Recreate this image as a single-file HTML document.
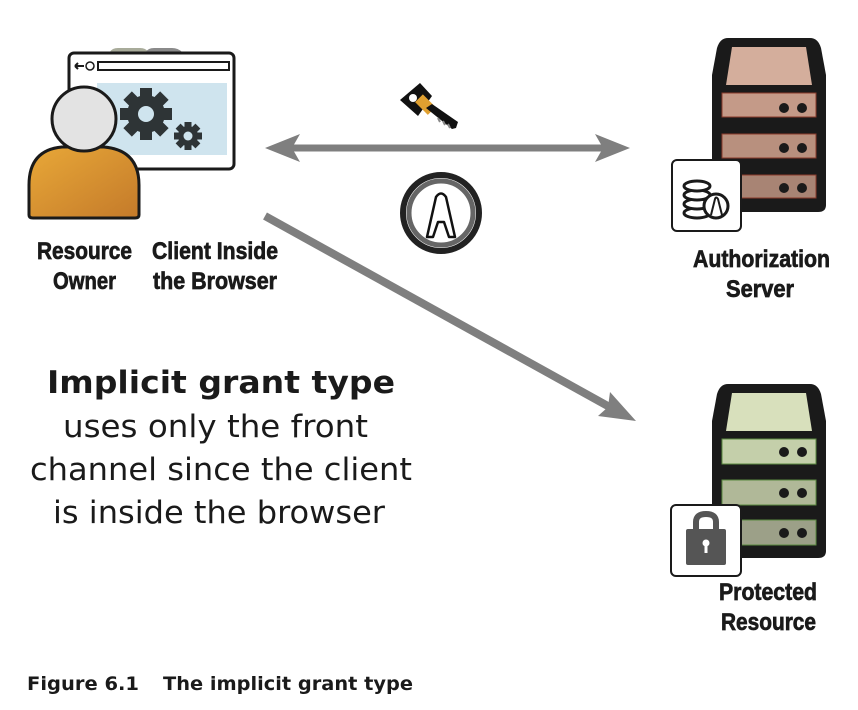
<!DOCTYPE html>
<html><head><meta charset="utf-8"><style>
html,body{margin:0;padding:0;background:#fff;}
svg{display:block;}
.lb{font-family:"Liberation Sans",sans-serif;font-weight:bold;font-size:24px;fill:#1a1a1a;stroke:#1a1a1a;stroke-width:0.7;}
</style></head><body>
<svg width="858" height="710" viewBox="0 0 858 710" xmlns="http://www.w3.org/2000/svg">
<defs>
<linearGradient id="org" x1="0" y1="0" x2="1" y2="1"><stop offset="0" stop-color="#e8a838"/><stop offset="1" stop-color="#c47a2a"/></linearGradient>
</defs>
<path d="M110 52 Q112 48 118 48 L140 48 Q146 48 148 52 Z" fill="#a8ab9a"/>
<path d="M146 52 Q148 48 154 48 L172 48 Q178 48 182 52 Z" fill="#8a8a8a"/>
<rect x="69" y="53" width="165" height="116" rx="5" fill="#fff" stroke="#1a1a1a" stroke-width="3"/>
<rect x="98" y="62" width="131" height="8" fill="#fff" stroke="#1a1a1a" stroke-width="2"/>
<path d="M75 66 L84 66 M75 66 L78 63 M75 66 L78 69" stroke="#1a1a1a" stroke-width="2" fill="none"/>
<circle cx="90" cy="66" r="4" fill="none" stroke="#1a1a1a" stroke-width="1.5"/>
<rect x="97" y="83" width="130" height="72" fill="#cfe4ee"/>
<g transform="translate(146,114)" fill="#2e3436">
<circle r="19"/>
<rect x="-6" y="-26" width="12" height="52"/><rect x="-26" y="-6" width="52" height="12"/><rect x="-6" y="-26" width="12" height="52" transform="rotate(45)"/><rect x="-6" y="-26" width="12" height="52" transform="rotate(-45)"/>
<circle r="8" fill="#cfe4ee"/>
</g>
<g transform="translate(188,136)" fill="#2e3436">
<circle r="10"/>
<rect x="-3.5" y="-14" width="7" height="28"/><rect x="-14" y="-3.5" width="28" height="7"/><rect x="-3.5" y="-14" width="7" height="28" transform="rotate(45)"/><rect x="-3.5" y="-14" width="7" height="28" transform="rotate(-45)"/>
<circle r="4.5" fill="#cfe4ee"/>
</g>
<path d="M29 215 L29 185 Q29 150 62 147 L104 147 Q139 150 139 185 L139 215 Q139 218 135 218 L33 218 Q29 218 29 215 Z" fill="url(#org)" stroke="#1a1a1a" stroke-width="3"/>
<circle cx="84" cy="119" r="32" fill="#e3e3e3" stroke="#1a1a1a" stroke-width="3"/>
<text class="lb" x="37" y="259" textLength="95" lengthAdjust="spacingAndGlyphs">Resource</text>
<text class="lb" x="53" y="289" textLength="63" lengthAdjust="spacingAndGlyphs">Owner</text>
<text class="lb" x="152" y="259" textLength="126" lengthAdjust="spacingAndGlyphs">Client Inside</text>
<text class="lb" x="153" y="289" textLength="124" lengthAdjust="spacingAndGlyphs">the Browser</text>
<line x1="285" y1="148" x2="610" y2="148" stroke="#7f7f7f" stroke-width="7"/>
<polygon points="265,148 300,134 292,148 300,162" fill="#7f7f7f"/>
<polygon points="630,148 595,134 603,148 595,162" fill="#7f7f7f"/>
<line x1="265" y1="216" x2="615" y2="410" stroke="#7f7f7f" stroke-width="8"/>
<polygon points="636,421 598,416 608,407 610,392" fill="#7f7f7f"/>
<g transform="translate(398,78)">
<polygon points="2,22 22,5 34,18 20,38" fill="#111"/>
<circle cx="15" cy="20" r="4" fill="#fff"/>
<rect x="22" y="18" width="11" height="18" fill="#e0a030" transform="rotate(-45 27 27)"/>
<polygon points="28,30 34,26 60,44 58,50 54,51" fill="#111"/>
<path d="M40 40 L42 44 M45 43 L47 47 M50 46 L52 50" stroke="#888" stroke-width="2"/>
</g>
<circle cx="441" cy="213" r="38" fill="#fff" stroke="#222" stroke-width="6"/>
<circle cx="441" cy="213" r="32" fill="none" stroke="#666" stroke-width="5"/>
<path d="M427 237 L436 197 Q441 190 446 197 L455 237 L449 237 L444 222 L438 222 L433 237 Z" fill="#fff" stroke="#111" stroke-width="2.5" stroke-linejoin="round"/>
<g>
<path d="M728 38 L810 38 Q818 38 821 48 L826 75 L826 205 Q826 212 818 212 L720 212 Q712 212 712 205 L712 75 L717 48 Q720 38 728 38 Z" fill="#1a1a1a"/>
<polygon points="732,47 806,47 812,85 726,85" fill="#d4ae9c"/>
<rect x="722" y="93" width="94" height="24" fill="#c49a88" stroke="#8a3a2a" stroke-width="1"/>
<rect x="722" y="134" width="94" height="24" fill="#b8907e" stroke="#8a3a2a" stroke-width="1"/>
<rect x="722" y="175" width="94" height="23" fill="#a88474" stroke="#8a3a2a" stroke-width="1"/>
<g fill="#1a1a1a"><circle cx="784" cy="108" r="5"/><circle cx="802" cy="108" r="5"/><circle cx="784" cy="148" r="5"/><circle cx="802" cy="148" r="5"/><circle cx="784" cy="188" r="5"/><circle cx="802" cy="188" r="5"/></g>
<rect x="672" y="160" width="69" height="71" rx="5" fill="#fff" stroke="#1a1a1a" stroke-width="2"/>
<g fill="#fff" stroke="#1a1a1a" stroke-width="3">
<ellipse cx="697" cy="213" rx="13" ry="5"/><ellipse cx="697" cy="204" rx="13" ry="5"/><ellipse cx="697" cy="195" rx="13" ry="5"/><ellipse cx="697" cy="186" rx="13" ry="5"/>
<circle cx="716" cy="206" r="12"/>
</g>
<path d="M711 215 L715 199 Q716 196 718 199 L722 215" fill="none" stroke="#1a1a1a" stroke-width="2"/>
</g>
<text class="lb" x="693" y="267" textLength="137" lengthAdjust="spacingAndGlyphs">Authorization</text>
<text class="lb" x="726" y="297" textLength="68" lengthAdjust="spacingAndGlyphs">Server</text>
<g>
<path d="M728 384 L810 384 Q818 384 821 394 L826 421 L826 551 Q826 558 818 558 L720 558 Q712 558 712 551 L712 421 L717 394 Q720 384 728 384 Z" fill="#1a1a1a"/>
<polygon points="732,393 806,393 812,431 726,431" fill="#d8e0bc"/>
<rect x="722" y="439" width="94" height="25" fill="#c4cfaa" stroke="#5a8a40" stroke-width="1"/>
<rect x="722" y="480" width="94" height="25" fill="#b0b898" stroke="#5a8a40" stroke-width="1"/>
<rect x="722" y="520" width="94" height="25" fill="#9ca088" stroke="#5a8a40" stroke-width="1"/>
<g fill="#1a1a1a"><circle cx="784" cy="452" r="5"/><circle cx="802" cy="452" r="5"/><circle cx="784" cy="493" r="5"/><circle cx="802" cy="493" r="5"/><circle cx="784" cy="533" r="5"/><circle cx="802" cy="533" r="5"/></g>
<rect x="671" y="505" width="70" height="71" rx="5" fill="#fff" stroke="#1a1a1a" stroke-width="2"/>
<path d="M696 530 L696 522 Q696 514 706 514 Q716 514 716 522 L716 530" fill="none" stroke="#555" stroke-width="6"/>
<rect x="686" y="529" width="40" height="36" rx="2" fill="#555"/>
<circle cx="706" cy="543" r="3.5" fill="#fff"/><rect x="704.5" y="544" width="3" height="9" fill="#fff"/>
</g>
<text class="lb" x="719" y="600" textLength="98" lengthAdjust="spacingAndGlyphs">Protected</text>
<text class="lb" x="721" y="630" textLength="95" lengthAdjust="spacingAndGlyphs">Resource</text>
<g font-family="'DejaVu Sans',sans-serif" fill="#1a1a1a">
<text x="47" y="393" font-size="31" font-weight="bold" textLength="348" lengthAdjust="spacingAndGlyphs">Implicit grant type</text>
<text x="63" y="437" font-size="31" textLength="305" lengthAdjust="spacingAndGlyphs">uses only the front</text>
<text x="30" y="480" font-size="31" textLength="382" lengthAdjust="spacingAndGlyphs">channel since the client</text>
<text x="53" y="523" font-size="31" textLength="332" lengthAdjust="spacingAndGlyphs">is inside the browser</text>
<text x="27" y="690" font-size="19" font-weight="bold" textLength="112" lengthAdjust="spacingAndGlyphs">Figure 6.1</text>
<text x="163" y="690" font-size="19" font-weight="bold" textLength="250" lengthAdjust="spacingAndGlyphs">The implicit grant type</text>
</g>
</svg>
</body></html>
